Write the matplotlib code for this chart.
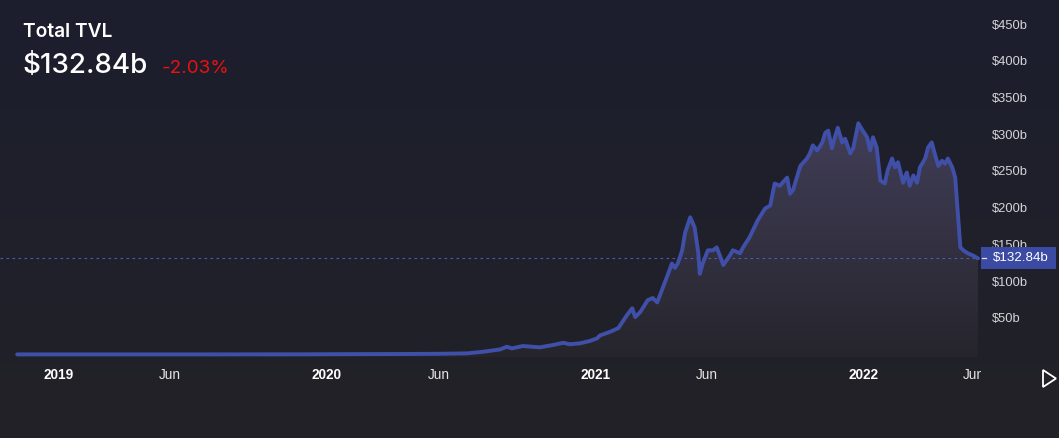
import numpy as np
import matplotlib
matplotlib.use("Agg")
import matplotlib.pyplot as plt
import matplotlib.dates as mdates
from matplotlib.patches import Rectangle, Polygon
from matplotlib.colors import LinearSegmentedColormap
from matplotlib.transforms import blended_transform_factory, Bbox, TransformedBbox

# ---------------- data (TVL in billions of USD) ----------------
dates = [
    "2018-11-05", "2019-02-26", "2019-07-12", "2019-11-25", "2020-01-19",
    "2020-04-10", "2020-06-03", "2020-07-10", "2020-08-01", "2020-08-24",
    "2020-09-02", "2020-09-09", "2020-09-24", "2020-10-17", "2020-11-04",
    "2020-11-18", "2020-11-27", "2020-12-11", "2020-12-24", "2021-01-03",
    "2021-01-07", "2021-01-21", "2021-02-01", "2021-02-13", "2021-02-20",
    "2021-02-24", "2021-03-03", "2021-03-13", "2021-03-20", "2021-03-26",
    "2021-04-03", "2021-04-08", "2021-04-15", "2021-04-19", "2021-04-23",
    "2021-04-29", "2021-05-03", "2021-05-10", "2021-05-16", "2021-05-21",
    "2021-05-23", "2021-05-27", "2021-06-03", "2021-06-10", "2021-06-15",
    "2021-06-20", "2021-06-24", "2021-07-03", "2021-07-07", "2021-07-17",
    "2021-07-21", "2021-07-30", "2021-08-10", "2021-08-20", "2021-08-27",
    "2021-09-02", "2021-09-09", "2021-09-19", "2021-09-23", "2021-09-27",
    "2021-10-07", "2021-10-16", "2021-10-20", "2021-10-24", "2021-10-30",
    "2021-11-06", "2021-11-10", "2021-11-14", "2021-11-19", "2021-11-23",
    "2021-11-27", "2021-12-03", "2021-12-07", "2021-12-14", "2021-12-18",
    "2021-12-25", "2021-12-31", "2022-01-06", "2022-01-10", "2022-01-14",
    "2022-01-19", "2022-01-24", "2022-01-30", "2022-02-03", "2022-02-09",
    "2022-02-13", "2022-02-17", "2022-02-24", "2022-03-01", "2022-03-05",
    "2022-03-10", "2022-03-15", "2022-03-19", "2022-03-26", "2022-03-30",
    "2022-04-04", "2022-04-08", "2022-04-13", "2022-04-18", "2022-04-22",
    "2022-04-26", "2022-05-02", "2022-05-06", "2022-05-10", "2022-05-13",
    "2022-05-17", "2022-05-23", "2022-05-30", "2022-06-06",
]
tvl = [
    2.2, 2.2, 2.2, 2.3, 2.5,
    2.7, 3.0, 3.6, 5.8, 9.0,
    12.6, 10.4, 13.6, 11.8, 15.0,
    18.0, 16.0, 17.3, 20.4, 24.0,
    28.0, 33.0, 38.0, 56.0, 65.0,
    53.0, 60.0, 76.0, 79.0, 73.0,
    94.0, 107.0, 126.0, 120.0, 126.0,
    144.0, 168.0, 189.0, 175.0, 140.0,
    112.0, 126.0, 144.0, 144.0, 148.0,
    135.0, 124.0, 137.0, 144.0, 140.0,
    148.0, 162.0, 185.0, 201.0, 205.0,
    235.0, 232.0, 243.0, 221.0, 226.0,
    259.0, 269.0, 276.0, 287.0, 280.0,
    291.0, 304.0, 307.0, 283.0, 298.0,
    311.0, 291.0, 296.0, 276.0, 283.0,
    317.0, 307.0, 298.0, 280.0, 298.0,
    284.0, 239.0, 235.0, 253.0, 269.0,
    257.0, 264.0, 236.0, 250.0, 232.0,
    246.0, 236.0, 257.0, 269.0, 284.0,
    291.0, 276.0, 259.0, 266.0, 262.0,
    269.0, 257.0, 243.0, 189.0, 148.0,
    144.0, 140.0, 137.0, 133.0,
]

year_ticks = ["2019-01-01", "2020-01-01", "2021-01-01", "2022-01-01"]
year_labels = ["2019", "2020", "2021", "2022"]
month_ticks = ["2019-06-01", "2020-06-01", "2021-06-01", "2022-06-01"]
month_labels = ["Jun", "Jun", "Jun", "Jun"]
y_ticks = [50, 100, 150, 200, 250, 300, 350, 400, 450]
y_labels = ["$50b", "$100b", "$150b", "$200b", "$250b", "$300b", "$350b", "$400b", "$450b"]
current_value = 132.84
current_label = "$132.84b"
change_label = "-2.03%"
title = "Total TVL"

# ---------------- styling ----------------
W, H = 1059, 438
LINE = "#4050a8"
PANE_RIGHT = 980      # px
PANE_BOTTOM = 357     # px from top
PX_PER_DAY = 0.734
PX_PER_B = 0.734
ORIGIN_X = 59         # px where 2019-01-01 sits
ZERO_Y = 356          # px where 0 sits

fig = plt.figure(figsize=(W / 100, H / 100), dpi=100)

# background gradient
bg = fig.add_axes([0, 0, 1, 1])
bg.axis("off")
bg_cmap = LinearSegmentedColormap.from_list("bg", ["#1c1e2e", "#222227"])
bg.imshow(np.linspace(0, 1, 256)[:, None], aspect="auto", cmap=bg_cmap,
          extent=[0, 1, 0, 1], origin="upper")
bg.set_xlim(0, 1)
bg.set_ylim(0, 1)

ax = fig.add_axes([0, (H - PANE_BOTTOM) / H, PANE_RIGHT / W, PANE_BOTTOM / H])
ax.set_facecolor("none")
for s in ax.spines.values():
    s.set_visible(False)
ax.set_xticks([])
ax.set_yticks([])

x = mdates.datestr2num(dates)
y = np.array(tvl)
base = mdates.datestr2num("2019-01-01")
xlim = (base - ORIGIN_X / PX_PER_DAY, base + (PANE_RIGHT - ORIGIN_X) / PX_PER_DAY)
ymin = -(PANE_BOTTOM - ZERO_Y) / PX_PER_B
ymax = ZERO_Y / PX_PER_B

# gradient area fill
poly = ax.fill_between(x, y, ymin, facecolor="none", edgecolor="none")
fill_cmap = LinearSegmentedColormap.from_list("fill", ["#26252c", "#413e58"])
img = ax.imshow(np.linspace(0, 1, 256)[:, None], aspect="auto", cmap=fill_cmap,
                extent=[x[0], x[-1], ymin, y.max()], origin="lower", zorder=1)
img.set_clip_path(poly.get_paths()[0], transform=ax.transData)
ax.set_xlim(*xlim)
ax.set_ylim(ymin, ymax)

# line
ax.plot(x, y, color=LINE, lw=2.8, solid_joinstyle="round", solid_capstyle="round", zorder=3)

# current price dotted line
ax.axhline(current_value, color="#4a5ab8", lw=0.8, dashes=(2.4, 3.0), zorder=2)

# y labels
ytr = blended_transform_factory(fig.transFigure, ax.transData)
for v, lab in zip(y_ticks, y_labels):
    ax.text(992 / W, v, lab, transform=ytr, ha="left", va="center", color="#d4d4d8",
            fontsize=9.3, family="Liberation Sans", clip_on=False, zorder=5)

# price tag
tag_h = 22 / PX_PER_B
ax.add_patch(Rectangle((981 / W, current_value - tag_h / 2), 75 / W, tag_h, transform=ytr,
                       facecolor="#3b4ba3", edgecolor="none", clip_on=False, zorder=6))
ax.plot([982 / W, 986 / W], [current_value, current_value], transform=ytr, color="#e0e0e0",
        lw=0.9, clip_on=False, zorder=7)
ax.text(993 / W, current_value, current_label, transform=ytr, ha="left", va="center",
        color="white", fontsize=9.6, family="Liberation Sans", clip_on=False, zorder=7)

# x labels (time scale clipped at the pane's right edge)
xtr = blended_transform_factory(ax.transData, fig.transFigure)
clip_box = TransformedBbox(Bbox([[0, 0], [981 / W, 1]]), fig.transFigure)
xl_y = 1 - 375 / H
for d, lab in zip(year_ticks, year_labels):
    t = ax.text(mdates.datestr2num(d), xl_y, lab, transform=xtr, ha="center", va="center",
                color="white", fontsize=9.8, weight="bold", family="Liberation Sans")
    t.set_clip_path(None)
    t.set_clip_box(clip_box)
    t.set_clip_on(True)
for d, lab in zip(month_ticks, month_labels):
    t = ax.text(mdates.datestr2num(d), xl_y, lab, transform=xtr, ha="center", va="center",
                color="#e6e6e6", fontsize=9.8, family="Liberation Sans")
    t.set_clip_path(None)
    t.set_clip_box(clip_box)
    t.set_clip_on(True)

# play arrow
tri = Polygon([(1043 / W, 1 - 370 / H), (1043 / W, 1 - 387 / H), (1056 / W, 1 - 378.5 / H)],
              closed=True, facecolor="none", edgecolor="white", lw=1.3,
              transform=fig.transFigure)
fig.patches.append(tri)

# header
fig.text(23 / W, 1 - 37 / H, title, color="white", fontsize=13.8, weight="semibold",
         family="Inter", va="baseline", ha="left")
fig.text(22 / W, 1 - 73 / H, current_label, color="white", fontsize=20, weight="medium",
         family="Inter", va="baseline", ha="left")
fig.text(162 / W, 1 - 73 / H, change_label, color="#ec1010", fontsize=13.5,
         family="Inter", va="baseline", ha="left")

fig.savefig("out.png", dpi=100, facecolor=fig.get_facecolor())
